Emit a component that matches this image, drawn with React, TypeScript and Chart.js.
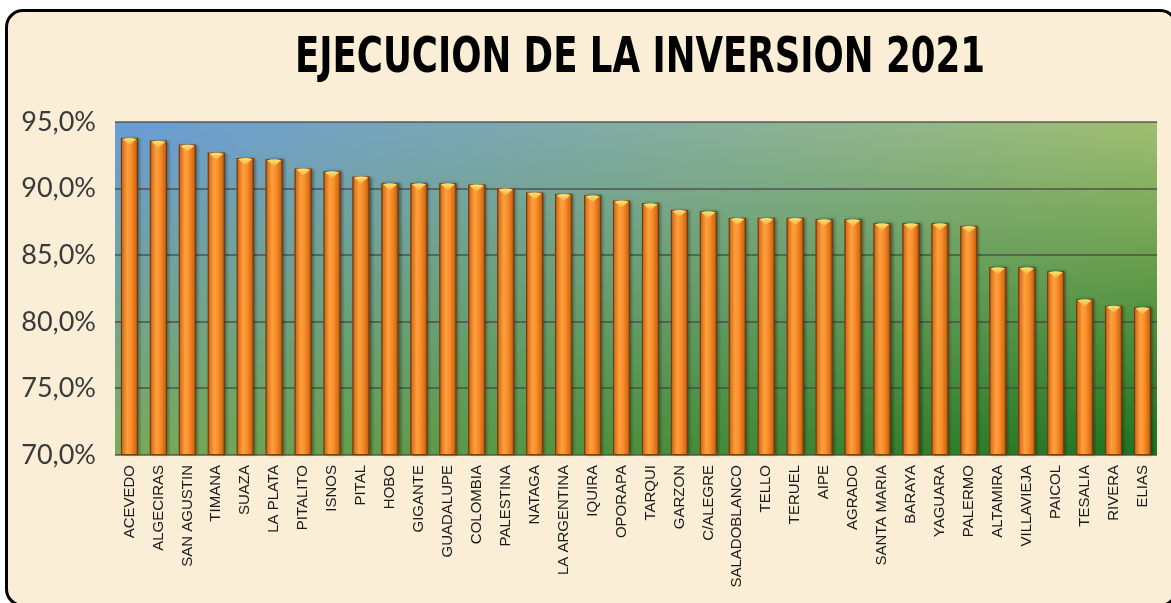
import React, { useEffect, useRef } from "react";
import { Chart, registerables } from "chart.js";

Chart.register(...registerables);

const TITLE = "EJECUCION DE LA INVERSION 2021";

const MUNICIPIOS = [
  "ACEVEDO", "ALGECIRAS", "SAN AGUSTIN", "TIMANA", "SUAZA", "LA PLATA",
  "PITALITO", "ISNOS", "PITAL", "HOBO", "GIGANTE", "GUADALUPE",
  "COLOMBIA", "PALESTINA", "NATAGA", "LA ARGENTINA", "IQUIRA", "OPORAPA",
  "TARQUI", "GARZON", "C/ALEGRE", "SALADOBLANCO", "TELLO", "TERUEL",
  "AIPE", "AGRADO", "SANTA MARIA", "BARAYA", "YAGUARA", "PALERMO",
  "ALTAMIRA", "VILLAVIEJA", "PAICOL", "TESALIA", "RIVERA", "ELIAS",
];

const EJECUCION = [
  93.8, 93.6, 93.3, 92.7, 92.3, 92.2,
  91.5, 91.3, 90.9, 90.4, 90.4, 90.4,
  90.3, 90.0, 89.7, 89.6, 89.5, 89.1,
  88.9, 88.4, 88.3, 87.8, 87.8, 87.8,
  87.7, 87.7, 87.4, 87.4, 87.4, 87.2,
  84.1, 84.1, 83.8, 81.7, 81.2, 81.1,
];

const Y_MIN = 70;
const Y_MAX = 95;
const Y_STEP = 5;

function makeBgImage(): HTMLCanvasElement {
  const w = 64, h = 32;
  const c = document.createElement("canvas");
  c.width = w; c.height = h;
  const g = c.getContext("2d")!;
  const img = g.createImageData(w, h);
  const TL = [106, 156, 214];
  const TR = [158, 190, 112];
  const BL = [122, 172, 92];
  const BR = [30, 116, 32];
  for (let j = 0; j < h; j++) {
    for (let i = 0; i < w; i++) {
      const u = i / (w - 1), v = j / (h - 1);
      const k = (j * w + i) * 4;
      for (let ch = 0; ch < 3; ch++) {
        const top = TL[ch] * (1 - u) + TR[ch] * u;
        const bot = BL[ch] * (1 - u) + BR[ch] * u;
        img.data[k + ch] = Math.round(top * (1 - v) + bot * v);
      }
      img.data[k + 3] = 255;
    }
  }
  g.putImageData(img, 0, 0);
  return c;
}

export default function App() {
  const ref = useRef<HTMLCanvasElement | null>(null);

  useEffect(() => {
    const canvas = ref.current;
    if (!canvas) return;
    const bg = makeBgImage();

    const areaBg = {
      id: "areaBg",
      beforeDraw(chart: any) {
        const { ctx, chartArea: a } = chart;
        ctx.save();
        ctx.imageSmoothingEnabled = true;
        ctx.drawImage(bg, a.left, a.top, a.right - a.left, a.bottom - a.top);
        ctx.restore();
      },
    };

    const titlePlugin = {
      id: "titleText",
      afterDraw(chart: any) {
        const { ctx } = chart;
        ctx.save();
        ctx.font = "bold 49px 'Liberation Sans Narrow', 'DejaVu Sans Condensed', 'Liberation Sans', sans-serif";
        ctx.fillStyle = "#000";
        ctx.textAlign = "center";
        ctx.textBaseline = "middle";
        const target = 690;
        const m = ctx.measureText(TITLE).width;
        ctx.translate(640, 59);
        ctx.scale(target / m, 1);
        ctx.fillText(TITLE, 0, 0);
        ctx.restore();
      },
    };

    const cylinders = {
      id: "cylinders",
      afterDatasetsDraw(chart: any) {
        const { ctx, chartArea: a } = chart;
        const meta = chart.getDatasetMeta(0);
        meta.data.forEach((el: any) => {
          const p = el.getProps(["x", "y", "base", "width"], true);
          const x = p.x, y = p.y, width = p.width;
          const base = Math.min(p.base, a.bottom);
          const l = x - width / 2;
          const r = x + width / 2;
          ctx.save();
          const grad = ctx.createLinearGradient(l, 0, r, 0);
          grad.addColorStop(0, "#9a4a0e");
          grad.addColorStop(0.12, "#db7420");
          grad.addColorStop(0.38, "#ffa03c");
          grad.addColorStop(0.6, "#f88e2a");
          grad.addColorStop(0.86, "#d46c18");
          grad.addColorStop(1, "#8c430c");
          ctx.shadowColor = "rgba(0,0,0,0.4)";
          ctx.shadowOffsetX = 2;
          ctx.shadowOffsetY = 0;
          ctx.shadowBlur = 3;
          ctx.fillStyle = grad;
          ctx.fillRect(l, y, width, base - y);
          ctx.shadowColor = "rgba(0,0,0,0)";
          ctx.strokeStyle = "rgba(110,55,10,0.9)";
          ctx.lineWidth = 1;
          ctx.strokeRect(l + 0.5, y + 0.5, width - 1, base - y - 1);
          const cg = ctx.createLinearGradient(0, y, 0, y + 7);
          cg.addColorStop(0, "#ffe27a");
          cg.addColorStop(1, "#f2b23a");
          ctx.fillStyle = cg;
          ctx.beginPath();
          ctx.moveTo(l + 1.5, y + 1);
          ctx.quadraticCurveTo(x, y - 1, r - 1.5, y + 1);
          ctx.lineTo(x, y + 7);
          ctx.closePath();
          ctx.fill();
          ctx.restore();
        });
      },
    };

    const chart = new Chart(canvas, {
      type: "bar",
      data: {
        labels: MUNICIPIOS,
        datasets: [
          {
            data: EJECUCION,
            backgroundColor: "rgba(0,0,0,0)",
            borderWidth: 0,
            barPercentage: 0.59,
            categoryPercentage: 1,
          },
        ],
      },
      options: {
        animation: false,
        responsive: false,
        maintainAspectRatio: false,
        devicePixelRatio: 1,
        layout: { padding: { top: 122, right: 14, left: 0, bottom: 0 } },
        plugins: {
          legend: { display: false },
          title: { display: false },
          tooltip: { enabled: false },
        },
        scales: {
          x: {
            grid: { display: false, drawTicks: false },
            border: { display: false },
            ticks: {
              autoSkip: false,
              maxRotation: 90,
              minRotation: 90,
              padding: 10,
              color: "#1a1a1a",
              font: { family: "'Liberation Sans', Arial, sans-serif", size: 15 },
            },
            afterFit(s: any) {
              s.height = 148;
            },
          },
          y: {
            min: Y_MIN,
            max: Y_MAX,
            beginAtZero: false,
            border: { display: false },
            grid: {
              color: "rgba(70,70,70,0.65)",
              lineWidth: 2,
              drawTicks: false,
            },
            ticks: {
              stepSize: Y_STEP,
              padding: 19,
              color: "#3a3a3a",
              font: { family: "Lato, 'Open Sans', sans-serif", size: 27 },
              callback: (v: any) => Number(v).toFixed(1).replace(".", ",") + "%",
            },
            afterFit(s: any) {
              s.width = 115;
            },
          },
        },
      },
      plugins: [areaBg, cylinders, titlePlugin],
    });

    return () => chart.destroy();
  }, []);

  return (
    <div
      style={{
        position: "fixed",
        left: 0,
        top: 0,
        width: 1171,
        height: 603,
        overflow: "hidden",
        background: "#ffffff",
      }}
    >
      <div
        style={{
          position: "absolute",
          left: 5,
          top: 9,
          width: 1173,
          height: 598,
          boxSizing: "border-box",
          border: "3px solid #000",
          borderRadius: 18,
          background: "#faefd6",
        }}
      />
      <canvas
        ref={ref}
        width={1171}
        height={603}
        style={{ position: "absolute", left: 0, top: 0, width: 1171, height: 603 }}
      />
    </div>
  );
}
